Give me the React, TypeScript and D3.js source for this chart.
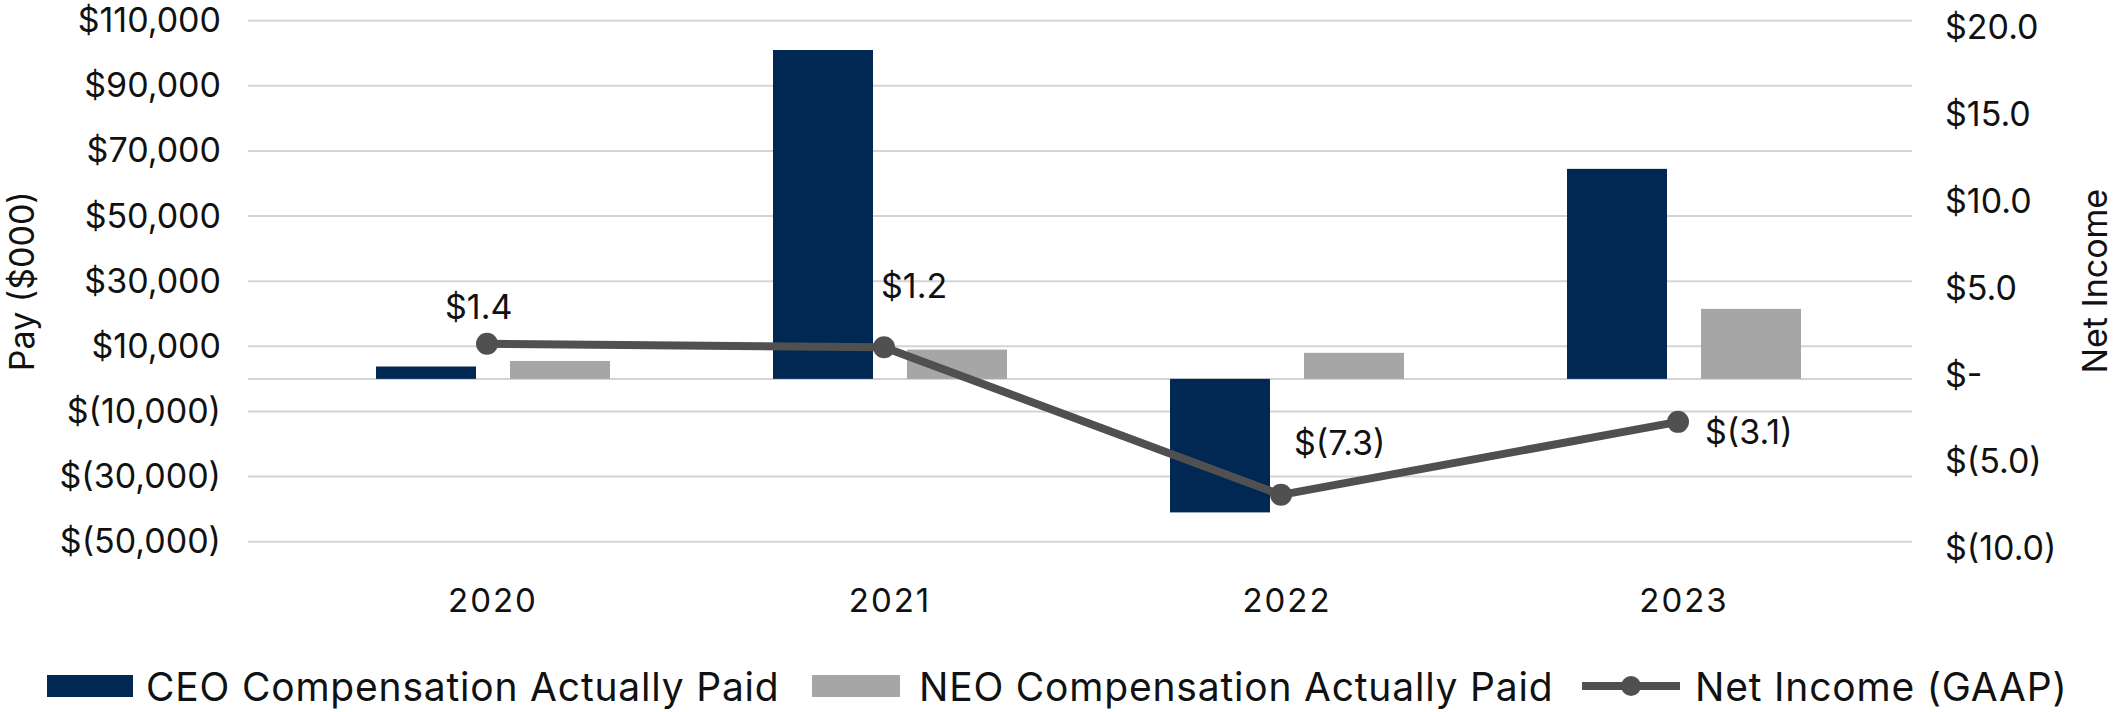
import { useEffect, useRef } from "react";
import * as d3 from "d3";

const YEARS = ["2020", "2021", "2022", "2023"];
const CEO_PAY = [3800, 101000, -41000, 64500];
const NEO_PAY = [5500, 9000, 8000, 21500];
const NET_INCOME = [1.4, 1.2, -7.3, -3.1];
const LEFT_TICKS = [110000, 90000, 70000, 50000, 30000, 10000, -10000, -30000, -50000];
const RIGHT_TICKS = [20, 15, 10, 5, 0, -5, -10];

const NAVY = "#002852";
const GREY = "#a6a6a6";
const LINE = "#505050";
const GRID = "#d4d4d4";
const FONT = "Inter, Roboto, sans-serif";

const W = 2116;
const H = 712;

const fmtLeft = (v: number) =>
  v < 0 ? `$(${d3.format(",")(-v)})` : `$${d3.format(",")(v)}`;
const fmtRight = (v: number) =>
  v === 0 ? "$-" : v < 0 ? `$(${(-v).toFixed(1)})` : `$${v.toFixed(1)}`;

// label offsets relative to each point (start anchor)
const LABEL_OFFSETS = [
  { dx: -42, dy: -37 },
  { dx: -3, dy: -62 },
  { dx: 13, dy: -52 },
  { dx: 27, dy: 10 },
];

export default function App() {
  const svgRef = useRef<SVGSVGElement>(null);

  useEffect(() => {
    if (!svgRef.current) return;
    const svg = d3.select(svgRef.current);
    svg.selectAll("*").remove();

    const plotLeft = 248;
    const plotRight = 1912;
    const top = 20.7;
    const bottom = 541.7;

    const x = d3.scaleBand().domain(YEARS).range([294.5, 1882.5]);
    const yL = d3.scaleLinear().domain([-50000, 110000]).range([bottom, top]);
    const yR = d3.scaleLinear().domain([-10, 20]).range([bottom, top]);

    const g = svg.append("g");

    // gridlines
    g.selectAll(".grid")
      .data(LEFT_TICKS)
      .enter()
      .append("line")
      .attr("x1", plotLeft)
      .attr("x2", plotRight)
      .attr("y1", (d) => yL(d))
      .attr("y2", (d) => yL(d))
      .attr("stroke", GRID)
      .attr("stroke-width", 2);

    // zero axis line
    g.append("line")
      .attr("x1", plotLeft)
      .attr("x2", plotRight)
      .attr("y1", yL(0))
      .attr("y2", yL(0))
      .attr("stroke", GRID)
      .attr("stroke-width", 2);

    // left tick labels
    g.selectAll(".lt")
      .data(LEFT_TICKS)
      .enter()
      .append("text")
      .attr("x", 221)
      .attr("y", (d) => yL(d) - 1)
      .attr("text-anchor", "end")
      .attr("dominant-baseline", "central")
      .attr("font-family", FONT)
      .attr("font-size", 34)
      .attr("fill", "#111")
      .text((d) => fmtLeft(d));

    // right tick labels
    g.selectAll(".rt")
      .data(RIGHT_TICKS)
      .enter()
      .append("text")
      .attr("x", 1945)
      .attr("y", (d) => yR(d) + 6)
      .attr("text-anchor", "start")
      .attr("dominant-baseline", "central")
      .attr("font-family", FONT)
      .attr("font-size", 34)
      .attr("fill", "#111")
      .text((d) => fmtRight(d));

    // bars
    const barW = 100;
    const gap = 17;
    const cx = (i: number) => (x(YEARS[i]) || 0) + x.bandwidth() / 2;

    g.selectAll(".ceo")
      .data(CEO_PAY)
      .enter()
      .append("rect")
      .attr("x", (_, i) => cx(i) - gap - barW)
      .attr("width", barW)
      .attr("y", (d) => Math.min(yL(d), yL(0)))
      .attr("height", (d) => Math.abs(yL(d) - yL(0)))
      .attr("fill", NAVY);

    g.selectAll(".neo")
      .data(NEO_PAY)
      .enter()
      .append("rect")
      .attr("x", (_, i) => cx(i) + gap)
      .attr("width", barW)
      .attr("y", (d) => Math.min(yL(d), yL(0)))
      .attr("height", (d) => Math.abs(yL(d) - yL(0)))
      .attr("fill", GREY);

    // net income line
    const line = d3
      .line<number>()
      .x((_, i) => cx(i) - 6)
      .y((d) => yR(d));

    g.append("path")
      .datum(NET_INCOME)
      .attr("d", line)
      .attr("fill", "none")
      .attr("stroke", LINE)
      .attr("stroke-width", 8)
      .attr("stroke-linejoin", "round");

    g.selectAll(".dot")
      .data(NET_INCOME)
      .enter()
      .append("circle")
      .attr("cx", (_, i) => cx(i) - 6)
      .attr("cy", (d) => yR(d))
      .attr("r", 11)
      .attr("fill", LINE);

    g.selectAll(".dl")
      .data(NET_INCOME)
      .enter()
      .append("text")
      .attr("x", (_, i) => cx(i) - 6 + LABEL_OFFSETS[i].dx)
      .attr("y", (d, i) => yR(d) + LABEL_OFFSETS[i].dy)
      .attr("dominant-baseline", "central")
      .attr("font-family", FONT)
      .attr("font-size", 34)
      .attr("fill", "#111")
      .text((d) => fmtRight(d));

    // x labels
    g.selectAll(".xl")
      .data(YEARS)
      .enter()
      .append("text")
      .attr("x", (d) => (x(d) || 0) + x.bandwidth() / 2)
      .attr("y", 600)
      .attr("text-anchor", "middle")
      .attr("dominant-baseline", "central")
      .attr("font-family", FONT)
      .attr("font-size", 33)
      .attr("letter-spacing", 2)
      .attr("fill", "#111")
      .text((d) => d);

    // axis titles
    g.append("text")
      .attr("transform", `translate(21, ${(top + bottom) / 2}) rotate(-90)`)
      .attr("text-anchor", "middle")
      .attr("dominant-baseline", "central")
      .attr("font-family", FONT)
      .attr("font-size", 34)
      .attr("fill", "#111")
      .text("Pay ($000)");

    g.append("text")
      .attr("transform", `translate(2094, ${(top + bottom) / 2}) rotate(-90)`)
      .attr("text-anchor", "middle")
      .attr("dominant-baseline", "central")
      .attr("font-family", FONT)
      .attr("font-size", 34)
      .attr("fill", "#111")
      .text("Net Income");

    // legend
    const ly = 686;
    const legFont = 39;
    const legSpacing = 0.8;
    const leg = g.append("g");
    leg.append("rect").attr("x", 47).attr("y", ly - 11).attr("width", 86).attr("height", 22).attr("fill", NAVY);
    leg.append("text").attr("x", 146).attr("y", ly).attr("dominant-baseline", "central")
      .attr("font-family", FONT).attr("font-size", legFont).attr("letter-spacing", legSpacing).attr("fill", "#111")
      .text("CEO Compensation Actually Paid");
    leg.append("rect").attr("x", 812).attr("y", ly - 11).attr("width", 88).attr("height", 22).attr("fill", GREY);
    leg.append("text").attr("x", 919).attr("y", ly).attr("dominant-baseline", "central")
      .attr("font-family", FONT).attr("font-size", legFont).attr("letter-spacing", legSpacing).attr("fill", "#111")
      .text("NEO Compensation Actually Paid");
    leg.append("line").attr("x1", 1582).attr("x2", 1680).attr("y1", ly).attr("y2", ly)
      .attr("stroke", LINE).attr("stroke-width", 8);
    leg.append("circle").attr("cx", 1631).attr("cy", ly).attr("r", 10).attr("fill", LINE);
    leg.append("text").attr("x", 1695).attr("y", ly).attr("dominant-baseline", "central")
      .attr("font-family", FONT).attr("font-size", legFont).attr("letter-spacing", legSpacing).attr("fill", "#111")
      .text("Net Income (GAAP)");
  }, []);

  return (
    <svg
      ref={svgRef}
      width={W}
      height={H}
      style={{ position: "absolute", left: 0, top: 0, background: "#fff" }}
    />
  );
}
